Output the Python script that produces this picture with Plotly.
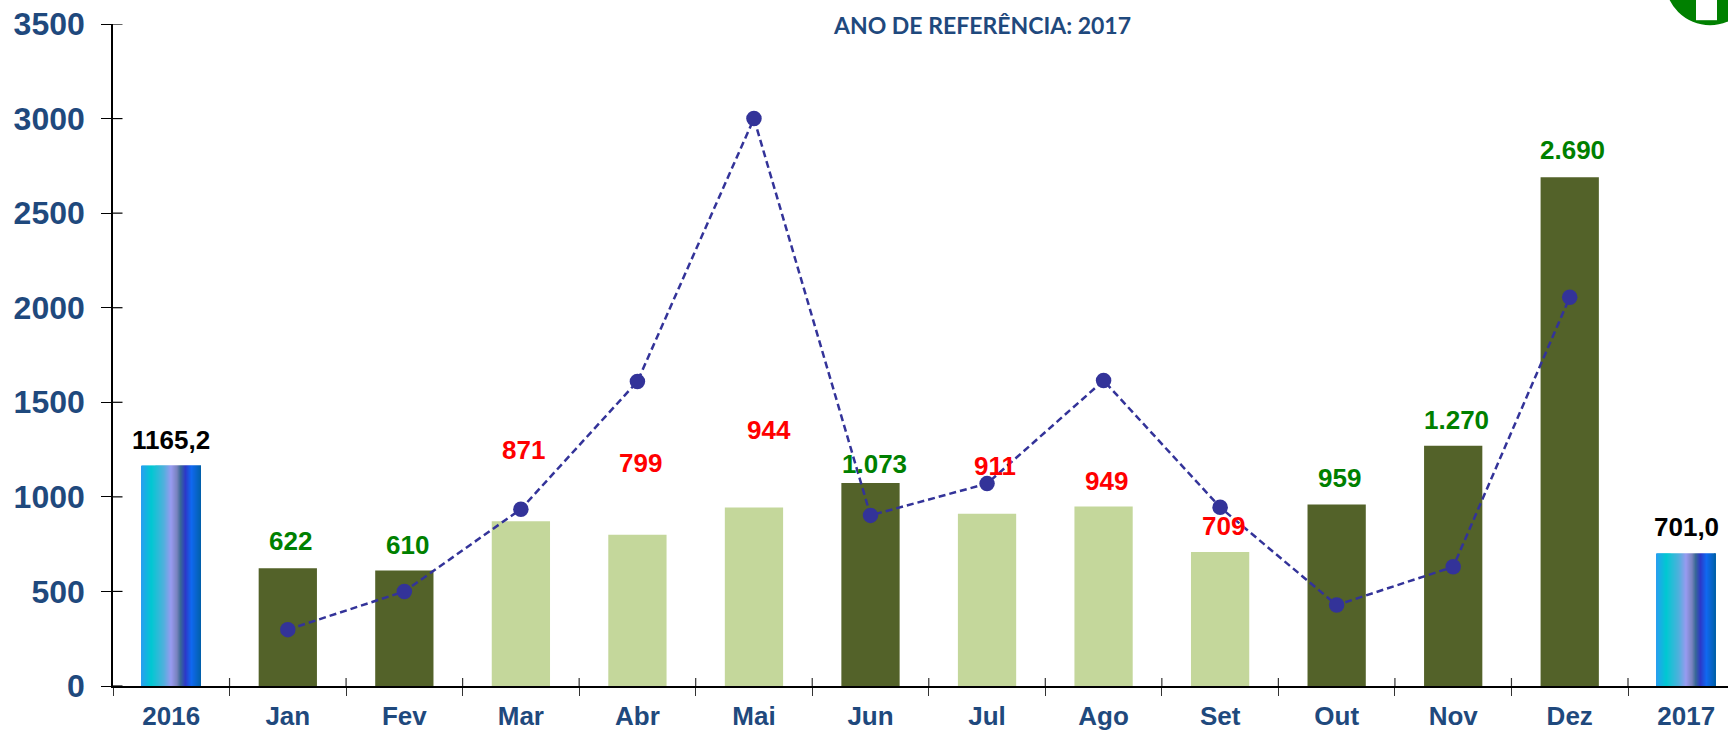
import plotly.graph_objects as go

# ---- data ----
categories = ["2016", "Jan", "Fev", "Mar", "Abr", "Mai", "Jun", "Jul", "Ago", "Set", "Out", "Nov", "Dez", "2017"]
months = categories[1:-1]
month_values = [622, 610, 871, 799, 944, 1073, 911, 949, 709, 959, 1270, 2690]
month_status = ["ok", "ok", "low", "low", "low", "ok", "low", "low", "low", "ok", "ok", "ok"]
annual_cats = ["2016", "2017"]
annual_values = [1165.2, 701.0]
line_values = [298, 500, 935, 1610, 3000, 902, 1070, 1615, 945, 428, 630, 2055]
label_texts = ["1165,2", "622", "610", "871", "799", "944", "1.073", "911", "949", "709", "959", "1.270", "2.690", "701,0"]
label_heights = [1302, 764, 743, 1250, 1180, 1355, 1175, 1165, 1086, 848, 1098, 1406, 2832, 842]
label_shift_px = [0, 3, 3, 3, 3, 15, 4, 8, 3, 3, 3, 3, 3, 0]
label_colors = ["#000000", "#008000", "#008000", "#ff0000", "#ff0000", "#ff0000", "#008000", "#ff0000",
                "#ff0000", "#ff0000", "#008000", "#008000", "#008000", "#000000"]
y_ticks = [0, 500, 1000, 1500, 2000, 2500, 3000, 3500]
title_text = "ANO DE REFERÊNCIA: 2017"

# ---- style ----
W, H = 1728, 730
L, R, T, B = 112.7, 1728, 24.3, 686.3
STEP = 116.56
X_END = (R - L) / STEP - 0.5
BLUE = "#1f497d"
DARK = "#536229"
LIGHT = "#c4d79b"
LINE = "#333399"
FONT = "Liberation Sans, Arial, sans-serif"
STOPS = [(0, (42, 157, 240)), (0.17, (0, 200, 210)), (0.38, (80, 176, 220)), (0.5, (152, 154, 240)),
         (0.6, (120, 130, 190)), (0.66, (56, 104, 150)), (0.74, (44, 56, 200)), (0.84, (16, 104, 240)), (1, (0, 96, 168))]


def grad(t):
    for (a, ca), (b, cb) in zip(STOPS, STOPS[1:]):
        if t <= b:
            f = (t - a) / (b - a)
            return "rgb(%d,%d,%d)" % tuple(round(p + (q - p) * f) for p, q in zip(ca, cb))
    return "rgb(0,96,168)"


def px(x):
    return (x - L) / (R - L)


def py(y):
    return (B - y) / (B - T)


fig = go.Figure()

# monthly bars
fig.add_trace(go.Bar(x=months, y=month_values, width=0.5,
                     marker=dict(color=[DARK if s == "ok" else LIGHT for s in month_status], line_width=0),
                     hoverinfo="x+y", showlegend=False))

# annual bars with a horizontal gradient, built from thin strips
N = 60
BW = 0.51
strip_x, strip_y, strip_off, strip_w, strip_c = [], [], [], [], []
for cat, val in zip(annual_cats, annual_values):
    for i in range(N):
        strip_x.append(cat)
        strip_y.append(val)
        strip_off.append(-BW / 2 + i * BW / N)
        strip_w.append(BW / N * (1.6 if i < N - 1 else 1))
        strip_c.append(grad((i + 0.5) / N))
fig.add_trace(go.Bar(x=strip_x, y=strip_y, offset=strip_off, width=strip_w,
                     marker=dict(color=strip_c, line_width=0), hoverinfo="x+y", showlegend=False))

# line
fig.add_trace(go.Scatter(x=months, y=line_values, mode="lines+markers",
                         line=dict(color=LINE, width=2.5, dash="7px,4px"),
                         marker=dict(color=LINE, size=15.5), showlegend=False))

annotations = [dict(x=i, y=h, text=t, xref="x", yref="y", xshift=s, showarrow=False, xanchor="center", yanchor="middle",
                    font=dict(family=FONT, size=26, color=col, weight="bold"))
               for i, (h, t, s, col) in enumerate(zip(label_heights, label_texts, label_shift_px, label_colors))]
annotations.append(dict(x=px(982), y=py(25), xref="paper", yref="paper", text=title_text, showarrow=False,
                        xanchor="center", yanchor="middle", font=dict(family="Lato, Carlito, sans-serif", size=23, color=BLUE, weight="bold")))

shapes = [
    dict(type="circle", xref="paper", yref="paper", x0=px(1665), x1=px(1755), y0=py(25.5), y1=py(-64.5),
         fillcolor="#008000", line_width=0, layer="above"),
    dict(type="rect", xref="paper", yref="paper", x0=px(1696), x1=px(1717), y0=py(20.5), y1=py(-5),
         fillcolor="#ffffff", line_width=0, layer="above"),
]
# inward halves of the crossing tick marks
shapes += [dict(type="line", xref="paper", yref="y", x0=0, x1=px(L + 9.5), y0=v, y1=v,
                line=dict(color="#000000", width=1.2), layer="above") for v in y_ticks]
shapes += [dict(type="line", xref="paper", yref="paper", x0=px(L + k * STEP), x1=px(L + k * STEP), y0=0, y1=py(B - 8),
                line=dict(color="#333333", width=1.2), layer="above") for k in range(1, len(categories))]

fig.update_layout(
    width=W, height=H, autosize=False,
    margin=dict(l=L, r=W - R, t=T, b=H - B, pad=0),
    paper_bgcolor="#ffffff", plot_bgcolor="#ffffff",
    barmode="overlay", showlegend=False,
    annotations=annotations, shapes=shapes,
    xaxis=dict(type="category", categoryorder="array", categoryarray=categories, range=[-0.5, X_END],
               tickson="boundaries", ticks="outside", ticklen=8, tickwidth=1.2, tickcolor="#333333",
               showline=True, linecolor="#000000", linewidth=1.6, showgrid=False, zeroline=False,
               ticklabelstandoff=6, tickfont=dict(family=FONT, size=26, color=BLUE, weight="bold")),
    yaxis=dict(range=[0, 3500], tickvals=y_ticks, ticks="outside", ticklen=10, tickwidth=1.2, tickcolor="#000000",
               showline=True, linecolor="#000000", linewidth=1.6, showgrid=False, zeroline=False,
               ticklabelstandoff=10, tickfont=dict(family=FONT, size=32, color=BLUE, weight="bold")),
)

fig.write_html("out.html", config={"displayModeBar": False},
               post_script="document.body.style.margin='0';document.documentElement.style.overflow='hidden';")
